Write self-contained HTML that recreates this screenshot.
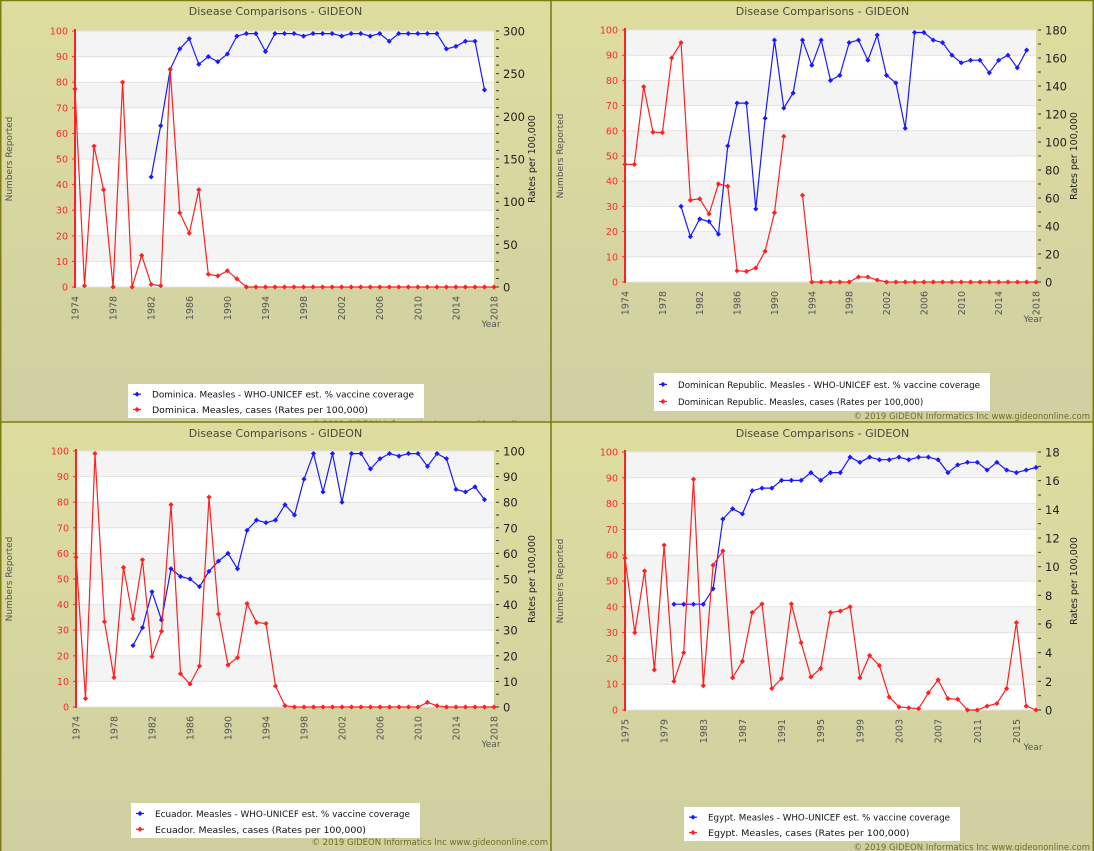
<!DOCTYPE html>
<html><head><meta charset="utf-8"><style>
html,body{margin:0;padding:0;background:#d8d8a0;}
svg{display:block;font-family:"DejaVu Sans","Liberation Sans",sans-serif;}
</style></head><body>
<svg id="chart" width="1094" height="851" viewBox="0 0 1094 851" xmlns="http://www.w3.org/2000/svg">
<defs>
<linearGradient id="bg" x1="0" y1="0" x2="0" y2="1"><stop offset="0" stop-color="#dedd9f"/><stop offset="1" stop-color="#cfcfa2"/></linearGradient>
</defs>
</svg>
<script>
// ---- Data (top-level arrays) ----
const p1Years = [1974,1975,1976,1977,1978,1979,1980,1981,1982,1983,1984,1985,1986,1987,1988,1989,1990,1991,1992,1993,1994,1995,1996,1997,1998,1999,2000,2001,2002,2003,2004,2005,2006,2007,2008,2009,2010,2011,2012,2013,2014,2015,2016,2017,2018];
const p1Coverage = [null,null,null,null,null,null,null,null,43,63,85,93,97,87,90,88,91,98,99,99,92,99,99,99,98,99,99,99,98,99,99,98,99,96,99,99,99,99,99,93,94,96,96,77,null];
const p1Rates = [232,1.5,165,114,0,240,0,37,3,1.5,255,87,63,114,15,13,19,9.5,0,0,0,0,0,0,0,0,0,0,0,0,0,0,0,0,0,0,0,0,0,0,0,0,0,0,0];
const p1RightTicks = [0,50,100,150,200,250,300];

const p2Years = p1Years;
const p2Coverage = [null,null,null,null,null,null,30,18,25,24,19,54,71,71,29,65,96,69,75,96,86,96,80,82,95,96,88,98,82,79,61,99,99,96,95,90,87,88,88,83,88,90,85,92,null];
const p2Rates = [84,84,139.5,107,106.7,160,171,58.5,59.4,48.6,70,68.4,8,7.6,10,22,49.5,104,null,62,0,0,0,0,0,3.6,3.6,1.4,0,0,0,0,0,0,0,0,0,0,0,0,0,0,0,0,0];
const p2RightTicks = [0,20,40,60,80,100,120,140,160,180];

const p3Years = p1Years;
const p3Coverage = [null,null,null,null,null,null,24,31,45,34,54,51,50,47,53,57,60,54,69,73,72,73,79,75,89,99,84,99,80,99,99,93,97,99,98,99,99,94,99,97,85,84,86,81,null];
const p3Rates = [58.5,3.3,99,33.3,11.5,54.5,34.5,57.5,19.7,29.6,79,13,9,16,82,36.3,16.4,19.3,40.4,33,32.6,8.2,0.5,0,0,0,0,0,0,0,0,0,0,0,0,0,0,1.8,0.5,0,0,0,0,0,0];
const p3RightTicks = [0,10,20,30,40,50,60,70,80,90,100];

const p4Years = [1975,1976,1977,1978,1979,1980,1981,1982,1983,1984,1985,1986,1987,1988,1989,1990,1991,1992,1993,1994,1995,1996,1997,1998,1999,2000,2001,2002,2003,2004,2005,2006,2007,2008,2009,2010,2011,2012,2013,2014,2015,2016,2017];
const p4Coverage = [null,null,null,null,null,41,41,41,41,47,74,78,76,85,86,86,89,89,89,92,89,92,92,98,96,98,97,97,98,97,98,98,97,92,95,96,96,93,96,93,92,93,94];
const p4Rates = [10.6,5.4,9.7,2.8,11.5,2.0,4.0,16.1,1.7,10.1,11.1,2.25,3.4,6.8,7.4,1.5,2.2,7.4,4.7,2.3,2.9,6.8,6.9,7.2,2.25,3.8,3.1,0.9,0.22,0.15,0.09,1.2,2.1,0.8,0.75,0,0,0.27,0.45,1.5,6.1,0.27,0];
const p4RightTicks = [0,2,4,6,8,10,12,14,16,18];

const leftTicks = [0,10,20,30,40,50,60,70,80,90,100];

const panels = [
 {key:'dominica', country:'Dominica', px:0,py:0,pw:551,ph:422, L:75,R:494,T:31,B:287, x0:1974,x1:2018,xstep:4, years:p1Years, cov:p1Coverage, rate:p1Rates, rt:p1RightTicks, rMinor:10, lg:[128,384,296,34], copy:[548,427]},
 {key:'dominican-republic', country:'Dominican Republic', px:551,py:0,pw:543,ph:422, L:625,R:1036,T:30,B:282, x0:1974,x1:2018,xstep:4, years:p2Years, cov:p2Coverage, rate:p2Rates, rt:p2RightTicks, rMinor:10, lg:[654,373,336,38], copy:[1090,419]},
 {key:'ecuador', country:'Ecuador', px:0,py:422,pw:551,ph:429, L:76,R:494,T:451,B:707, x0:1974,x1:2018,xstep:4, years:p3Years, cov:p3Coverage, rate:p3Rates, rt:p3RightTicks, rMinor:5, lg:[131,803,289,35], copy:[548,845]},
 {key:'egypt', country:'Egypt', px:551,py:422,pw:543,ph:429, L:625,R:1036,T:452,B:710, x0:1975,x1:2017,xstep:4, years:p4Years, cov:p4Coverage, rate:p4Rates, rt:p4RightTicks, rMinor:1, lg:[684,807,276,34], copy:[1090,850]}
];

const NS='http://www.w3.org/2000/svg';
const svg=document.getElementById('chart');
function mk(tag,attrs,parent,text){const e=document.createElementNS(NS,tag);for(const k in attrs)e.setAttribute(k,attrs[k]);if(text!==undefined)e.textContent=text;(parent||svg).appendChild(e);return e;}

function marker(g,x,y,color){
  const m=mk('path',{d:`M${x-2.6},${y}L${x},${y-2.6}L${x+2.6},${y}L${x},${y+2.6}Z`,fill:color},g);
  
  
}

panels.forEach(p=>{
  const g=mk('g',{});
  
  
  const bg=mk('rect',{x:p.px,y:p.py,width:p.pw,height:p.ph,fill:'url(#bg)'},g);
  
  
  const cx=p.px+p.pw/2;
  const t=mk('text',{x:cx,y:p.py+15,'text-anchor':'middle','font-size':11,fill:'#4a4a3a'},g,'Disease Comparisons - GIDEON');
  
  

  const xs=v=>p.L+(v-p.x0)/(p.x1-p.x0)*(p.R-p.L);
  const ysL=v=>p.B-v/100*(p.B-p.T);
  const rMax=p.rt[p.rt.length-1];
  const ysR=v=>p.B-v/rMax*(p.B-p.T);

  for(let i=0;i<10;i++){
    const b=mk('rect',{x:p.L,y:ysL(100-i*10),width:p.R-p.L,height:ysL(0)-ysL(10),fill:i%2===0?'#f4f4f4':'#ffffff'},g);
    
    
  }
  leftTicks.forEach(v=>{
    const gl=mk('line',{x1:p.L,x2:p.R,y1:ysL(v),y2:ysL(v),stroke:'#e2e2e2','stroke-width':1},g);
    
    
    const tl=mk('text',{x:p.L-7,y:ysL(v)+3.5,'text-anchor':'end','font-size':9.5,fill:'#ff2a2a'},g,String(v));
    
    
    const tk=mk('line',{x1:p.L-3,x2:p.L,y1:ysL(v),y2:ysL(v),stroke:'#ff2a2a'},g);
    
    
  });
  const la=mk('line',{x1:p.L,x2:p.L,y1:p.T-2,y2:p.B+1,stroke:'#ff2020','stroke-width':2},g);
  
  
  for(let v=0;v<=rMax;v+=p.rMinor){
    const mt=mk('line',{x1:p.R+2,x2:p.R+5,y1:ysR(v),y2:ysR(v),stroke:'#333'},g);
    
    
  }
  p.rt.forEach(v=>{
    const tl=mk('text',{x:p.R+9,y:ysR(v)+4.5,'font-size':11.5,fill:'#222'},g,String(v));
    
    
  });
  const yl=mk('text',{transform:`translate(${p.px+12},${(p.T+p.B)/2}) rotate(-90)`,'text-anchor':'middle','font-size':9,fill:'#555'},g,'Numbers Reported');
  
  
  const yr=mk('text',{transform:`translate(${p.R+41},${(p.T+p.B)/2}) rotate(-90)`,'text-anchor':'middle','font-size':9.5,fill:'#222'},g,'Rates per 100,000');
  
  
  for(let yv=p.x0;yv<=p.x1;yv+=p.xstep){
    const xl=mk('text',{transform:`translate(${xs(yv)+3.5},${p.B+9}) rotate(-90)`,'text-anchor':'end','font-size':9.5,fill:'#555'},g,String(yv));
    
    
  }
  const xt=mk('text',{x:p.R-3,y:p.B+40,'text-anchor':'middle','font-size':9,fill:'#555'},g,'Year');
  
  

  function series(vals,scale,color,name){
    const sg=mk('g',{},g);
    
    
    let d='',pen=false;
    vals.forEach((v,i)=>{
      if(v===null||v===undefined){pen=false;return;}
      const x=xs(p.years[i]),y=scale(v);
      d+=(pen?'L':'M')+x.toFixed(1)+','+y.toFixed(1);pen=true;
    });
    const ln=mk('path',{d:d,fill:'none',stroke:color,'stroke-width':1.2},sg);
    
    
    vals.forEach((v,i)=>{if(v===null||v===undefined)return;marker(sg,xs(p.years[i]),scale(v),color);});
  }
  series(p.cov,ysL,'#1a1aff','coverage-series');
  series(p.rate,ysR,'#ff2020','cases-rate-series');

  const cp=mk('text',{x:p.copy[0],y:p.copy[1],'text-anchor':'end','font-size':8.5,fill:'#6f6f20'},g,'© 2019 GIDEON Informatics Inc www.gideononline.com');
  
  
  const [lx,ly,lw,lh]=p.lg;
  const lg=mk('g',{},g);
  
  
  mk('rect',{x:lx,y:ly,width:lw,height:lh,fill:'#ffffff'},lg);
  const items=[['#1a1aff',p.country+'. Measles - WHO-UNICEF est. % vaccine coverage'],['#ff2020',p.country+'. Measles, cases (Rates per 100,000)']];
  items.forEach((it,k)=>{
    const yy=ly+lh*(k===0?0.3:0.75);
    const e=mk('g',{},lg);
    
    
    mk('line',{x1:lx+5,x2:lx+13,y1:yy,y2:yy,stroke:it[0],'stroke-width':1.2},e);
    mk('path',{d:`M${lx+9-2.6},${yy}L${lx+9},${yy-2.6}L${lx+9+2.6},${yy}L${lx+9},${yy+2.6}Z`,fill:it[0]},e);
    mk('text',{x:lx+24,y:yy+3.5,'font-size':8.8,fill:'#111',textLength:(k===0?lw-34:lw*0.73),'lengthAdjust':'spacingAndGlyphs'},e,it[1]);
  });
});
[['M0,0.5H1094'],['M0.7,0V851'],['M551,0V851'],['M0,422H1094'],['M1093.3,0V851']].forEach(a=>{
  const d=mk('path',{d:a[0],stroke:'#7d7d10','stroke-width':1.6,fill:'none'});
  
  
});
</script>
</body></html>
